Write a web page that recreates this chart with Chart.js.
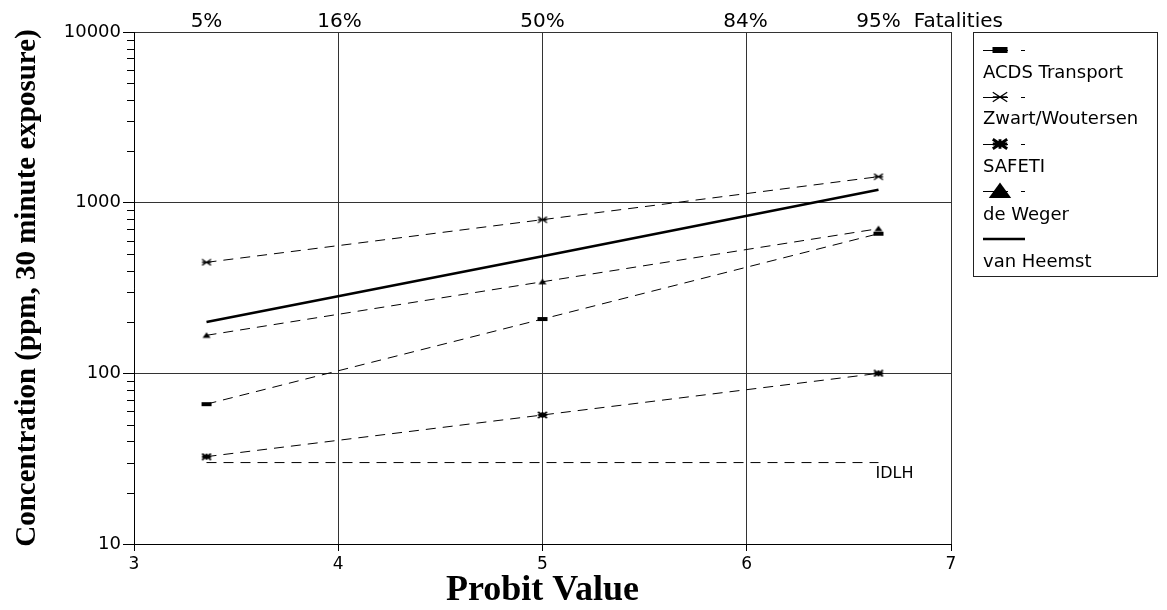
<!DOCTYPE html>
<html><head><meta charset="utf-8">
<script src="https://cdn.jsdelivr.net/npm/chart.js@4"></script>
<style>html,body{margin:0;padding:0;background:#fff}#c{display:block}</style>
</head><body>
<canvas id="c" width="1167" height="610"></canvas>
<script>
// ---- data ----
const probit = [3.355, 5, 6.645];
const acds = [66, 208, 658];
const zwart = [447, 795, 1420];
const safeti = [32.5, 57, 100];
const deWeger = [167, 344, 704];
const vanHeemst = [200, 485, 1190];
const idlhX = [3.355, 6.645];
const idlh = [30, 30];
const xTicks = [3, 4, 5, 6, 7];
const yTicks = [10, 100, 1000, 10000];
const fatalityProbits = [3.355, 4.006, 5, 5.994, 6.645];
const fatalityLabels = ['5%', '16%', '50%', '84%', '95%'];
const seriesNames = ['ACDS Transport', 'Zwart/Woutersen', 'SAFETI', 'de Weger', 'van Heemst'];

Chart.defaults.font.family = 'DejaVu Sans';
Chart.defaults.color = '#000';

// ---- marker drawing ----
function drawMarker(ctx, kind, cx, cy, s) {
  ctx.save();
  ctx.fillStyle = '#000'; ctx.strokeStyle = '#000';
  if (kind === 'rect') {
    ctx.fillRect(cx - 5 * s, cy - 2 * s, 10 * s, 4 * s);
  } else if (kind === 'star' || kind === 'bstar') {
    const w = 4.5 * s, h = 3 * s;
    ctx.lineWidth = kind === 'bstar' ? 1.8 * s : 1.3;
    ctx.beginPath();
    ctx.moveTo(cx - w, cy - h); ctx.lineTo(cx + w, cy + h);
    ctx.moveTo(cx - w, cy + h); ctx.lineTo(cx + w, cy - h);
    ctx.moveTo(cx - w, cy); ctx.lineTo(cx + w, cy);
    if (kind === 'bstar') { ctx.moveTo(cx, cy - h); ctx.lineTo(cx, cy + h); }
    ctx.stroke();
  } else if (kind === 'tri') {
    ctx.beginPath();
    ctx.moveTo(cx, cy - 3 * s); ctx.lineTo(cx + 4 * s, cy + 2.5 * s); ctx.lineTo(cx - 4 * s, cy + 2.5 * s);
    ctx.closePath(); ctx.fill();
  }
  ctx.restore();
}
function markerCanvas(kind) {
  const c = document.createElement('canvas');
  c.width = 12; c.height = 8;
  drawMarker(c.getContext('2d'), kind, 6, 4, 1);
  return c;
}
const kinds = ['rect', 'star', 'bstar', 'tri', 'line'];
const legendScale = [1.5, 1.6, 1.6, 2.8, 1];

const mk = (xs, ys) => xs.map((x, i) => ({x: x, y: ys[i]}));
const dash = [10, 7];
function dashed(label, ys, kind) {
  return {label: label, data: mk(probit, ys), borderColor: '#000', backgroundColor: '#000',
    borderWidth: 1, borderDash: dash, pointStyle: markerCanvas(kind), pointRadius: 4,
    pointHoverRadius: 4, fill: false, tension: 0};
}

const legendPlugin = {
  id: 'customLegend',
  afterDraw(chart) {
    const ctx = chart.ctx;
    const xs = chart.scales.x, ys = chart.scales.y;
    ctx.save();
    // minor ticks on y axis
    ctx.strokeStyle = '#000'; ctx.lineWidth = 1;
    ctx.beginPath();
    for (const d of [10, 100, 1000]) {
      for (let k = 2; k <= 9; k++) {
        const y = Math.round(ys.getPixelForValue(k * d)) + 0.5;
        ctx.moveTo(xs.left - 7, y); ctx.lineTo(xs.left, y);
      }
    }
    ctx.stroke();
    // Fatalities label
    ctx.font = '20px "DejaVu Sans"';
    ctx.textBaseline = 'middle'; ctx.textAlign = 'left'; ctx.fillStyle = '#000';
    const x95 = xs.getPixelForValue(fatalityProbits[4]);
    ctx.fillText('Fatalities', x95 + ctx.measureText('95%').width / 2 + 13, 22);
    // IDLH label
    ctx.font = '16px "DejaVu Sans"';
    ctx.textBaseline = 'top';
    ctx.fillText('IDLH', xs.getPixelForValue(idlhX[1]) - 3, ys.getPixelForValue(idlh[1]) + 3);
    // legend box
    ctx.strokeStyle = '#222'; ctx.lineWidth = 1;
    ctx.strokeRect(973.5, 32.5, 184, 244);
    const markerY = [50, 97, 144, 191, 239];
    const textY = [73, 119, 167, 215, 262];
    ctx.font = '18px "DejaVu Sans"';
    ctx.textBaseline = 'middle';
    seriesNames.forEach((name, i) => {
      const my = markerY[i];
      ctx.strokeStyle = '#000'; ctx.fillStyle = '#000';
      if (kinds[i] === 'line') {
        ctx.lineWidth = 2.5;
        ctx.beginPath(); ctx.moveTo(983, my); ctx.lineTo(1025, my); ctx.stroke();
      } else {
        ctx.lineWidth = 1;
        ctx.beginPath(); ctx.moveTo(983, my + 0.5); ctx.lineTo(1008, my + 0.5);
        ctx.moveTo(1021, my + 0.5); ctx.lineTo(1025, my + 0.5); ctx.stroke();
        drawMarker(ctx, kinds[i], 1000, my, legendScale[i]);
      }
      ctx.fillText(name, 983, textY[i]);
    });
    ctx.restore();
  }
};

new Chart(document.getElementById('c'), {
  type: 'line',
  data: {
    datasets: [
      dashed(seriesNames[0], acds, 'rect'),
      dashed(seriesNames[1], zwart, 'star'),
      dashed(seriesNames[2], safeti, 'bstar'),
      dashed(seriesNames[3], deWeger, 'tri'),
      {label: seriesNames[4], data: mk(probit, vanHeemst), borderColor: '#000', borderWidth: 2.5,
        pointRadius: 0, pointHoverRadius: 0, fill: false},
      {label: 'IDLH', data: mk(idlhX, idlh), borderColor: '#000', borderWidth: 1, borderDash: dash,
        pointRadius: 0, pointHoverRadius: 0, fill: false}
    ]
  },
  options: {
    responsive: false, animation: false, devicePixelRatio: 1,
    layout: {padding: {left: 0, top: 0, right: 216, bottom: 0}},
    plugins: {legend: {display: false}, tooltip: {enabled: false}},
    scales: {
      x: {
        type: 'linear', position: 'bottom', min: 3, max: 7,
        afterBuildTicks: s => { s.ticks = xTicks.map(v => ({value: v})); },
        ticks: {font: {size: 17}, color: '#000', padding: 3, autoSkip: false, maxRotation: 0, callback: v => String(v)},
        grid: {color: '#333', lineWidth: 1, tickLength: 7, tickColor: '#000'},
        border: {color: '#000', width: 1},
        title: {display: true, text: 'Probit Value', color: '#000',
          font: {family: 'Liberation Serif', size: 36, weight: 'bold', lineHeight: 1}, padding: {top: 0, bottom: 1}},
        afterFit: s => { s.height = 66; }
      },
      x2: {
        type: 'linear', position: 'top', min: 3, max: 7,
        afterBuildTicks: s => { s.ticks = fatalityProbits.map(v => ({value: v})); },
        ticks: {font: {size: 20}, color: '#000', padding: -2, autoSkip: false, maxRotation: 0,
          callback: (v, i) => fatalityLabels[i]},
        grid: {display: false, drawTicks: false},
        border: {display: false},
        afterFit: s => { s.height = 32; }
      },
      y: {
        type: 'logarithmic', min: 10, max: 10000,
        afterBuildTicks: s => { s.ticks = yTicks.map(v => ({value: v})); },
        ticks: {font: {size: 18}, color: '#000', padding: 2, autoSkip: false, callback: v => String(v)},
        grid: {color: '#333', lineWidth: 1, tickLength: 11, tickColor: '#000'},
        border: {color: '#000', width: 1},
        title: {display: true, text: 'Concentration (ppm, 30 minute exposure)', color: '#000',
          font: {family: 'Liberation Serif', size: 29, weight: 'bold'}, padding: {top: 10, bottom: 0}},
        afterFit: s => { s.width = 134; }
      }
    }
  },
  plugins: [legendPlugin]
});
</script>
</body></html>
